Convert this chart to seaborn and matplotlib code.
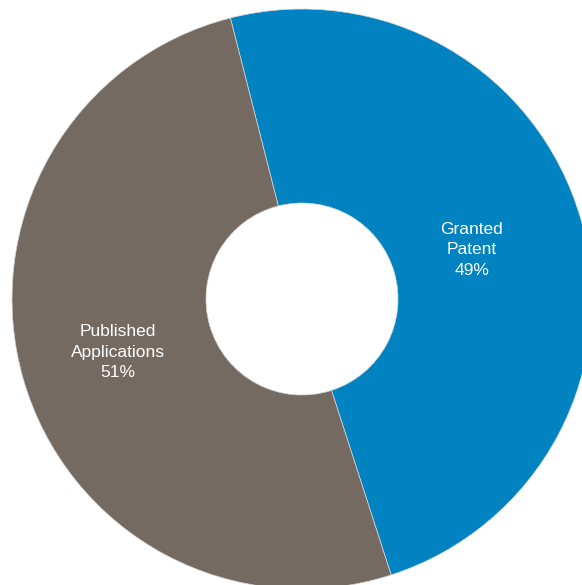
import matplotlib
matplotlib.use("Agg")
import matplotlib.pyplot as plt
import seaborn as sns
import numpy as np

# dados do grafico (leitura da imagem)
categorias = ["Granted\nPatent", "Published\nApplications"]
percentuais = [49, 51]
cores = ["#0083C0", "#756A61"]

sns.set_theme(style="white")
plt.rcParams["font.family"] = ["Liberation Sans", "DejaVu Sans"]

fig = plt.figure(figsize=(5.82, 5.85), dpi=100)
ax = fig.add_axes([0, 0, 1, 1])

rotulos = [f"{c}\n{p}%" for c, p in zip(categorias, percentuais)]
centro = (302, 286)
raio = 290

# rosca cortada nas bordas, como no original
wedges, textos = ax.pie(
    percentuais,
    labels=rotulos,
    colors=cores,
    startangle=104.3,
    counterclock=False,
    center=centro,
    radius=raio,
    labeldistance=0.635,
    wedgeprops=dict(width=194, edgecolor="#d8d8d8", linewidth=0.5),
    textprops=dict(color="white", fontsize=12.5, ha="center", va="center",
                   multialignment="center", linespacing=1.45),
    frame=True,
)

# ajuste fino da distancia dos rotulos
distancias = [0.61, 0.66]
for w, t, d in zip(wedges, textos, distancias):
    ang = np.deg2rad((w.theta1 + w.theta2) / 2)
    t.set_position((centro[0] + d * raio * np.cos(ang),
                    centro[1] + d * raio * np.sin(ang)))

ax.set_xlim(0, 582)
ax.set_ylim(0, 585)
ax.set_aspect("equal")
ax.axis("off")

fig.savefig("out.png", dpi=100)
